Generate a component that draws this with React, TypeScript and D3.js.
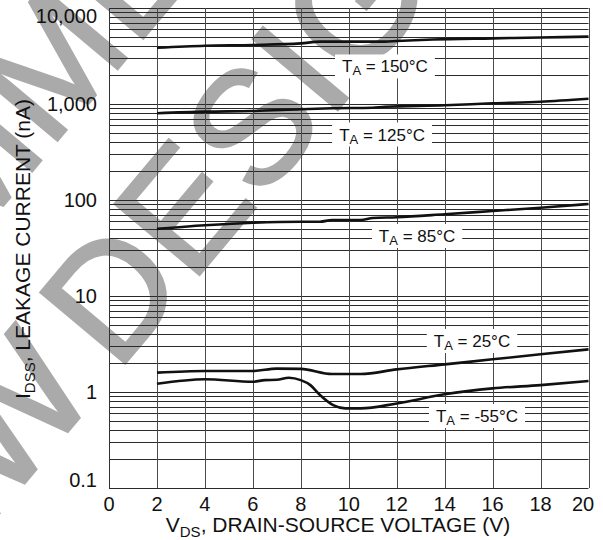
import React from 'react';
import * as d3 from 'd3';

// ---- Data (V_DS in volts, I_DSS in nA) ----
const curve150: [number, number][] = [[2, 3860], [4, 4050], [6, 4120], [8, 4280], [8.8, 4460], [10, 4460], [11.5, 4460], [12, 4530], [13.5, 4700], [16, 4830], [18, 4930], [20, 5030]];
const curve125: [number, number][] = [[2, 800], [4, 832], [6, 845], [8, 881], [9.3, 902], [11, 915], [11.5, 937], [14, 969], [16, 1017], [18, 1057], [20, 1136]];
const curve85: [number, number][] = [[2, 50], [4, 54.5], [6, 58], [8, 59.4], [8.8, 59.4], [9.3, 61.9], [10.5, 61.9], [11, 64.9], [12, 66.1], [14, 71], [16, 76.8], [18, 83.1], [20, 90.9]];
const curve25: [number, number][] = [[2, 1.59], [4, 1.655], [6, 1.655], [7, 1.75], [8, 1.74], [9.3, 1.54], [10.5, 1.54], [12, 1.72], [14, 1.94], [16, 2.19], [18, 2.47], [20, 2.78]];
const curveM55: [number, number][] = [[2, 1.22], [4, 1.36], [6, 1.28], [6.5, 1.33], [7, 1.34], [7.5, 1.41], [8, 1.33], [8.4, 1.18], [8.8, 0.93], [9.35, 0.73], [9.85, 0.676], [10.5, 0.676], [12, 0.76], [14, 0.946], [16, 1.09], [18, 1.18], [20, 1.3]];
const curves = [curve150, curve125, curve85, curve25, curveM55];

const seriesTemps = ['150°C', '125°C', '85°C', '25°C', '-55°C'];
// label anchor in data coords [V, nA]
const labelAnchors: [number, number][] = [[11.51, 2460], [11.39, 481], [12.85, 42.2], [15.14, 3.4], [15.35, 0.562]];

const xTicks = [0, 2, 4, 6, 8, 10, 12, 14, 16, 18, 20];
const yTicks = [0.1, 1, 10, 100, 1000, 10000];
const yTickLabels = ['0.1', '1', '10', '100', '1,000', '10,000'];

const FONT = '"Liberation Sans", Arial, Helvetica, sans-serif';

const charW: Record<string, number> = { ' ': 0.278, '=': 0.584, '°': 0.4, C: 0.722, T: 0.611, '-': 0.333 };
function estWidth(s: string, fs: number) {
  let w = 0;
  for (const c of s) w += (charW[c] ?? 0.556) * fs;
  return w;
}

export default function App() {
  const W = 603, H = 540;
  const x = d3.scaleLinear().domain([0, 20]).range([109, 588.5]);
  const y = d3.scaleLog().domain([0.1, 10000]).range([488, 8]);

  const hLines: number[] = [];
  for (let d = -1; d <= 3; d++) {
    for (let k = 1; k <= 9; k++) hLines.push(k * Math.pow(10, d));
  }
  hLines.push(10000);

  const line = d3.line<[number, number]>().x(d => x(d[0])).y(d => y(d[1])).curve(d3.curveMonotoneX);

  const F = 160;
  const wmFill = '#aaaaaa';

  return (
    <svg width={W} height={H} style={{ position: 'absolute', left: 0, top: 0, background: '#fff' }} fontFamily={FONT}>
      <rect x={0} y={0} width={W} height={H} fill="#fff" />
      {/* watermark */}
      <g fill={wmFill} stroke={wmFill} strokeWidth={3} strokeLinejoin="miter" fontSize={F} fontFamily={FONT}>
        <g transform="translate(110,292) rotate(-50)">
          <text x={139 - 6.528 * F} y={-195 + 0.358 * F}>NOT RECOMMENDED</text>
          <text x={-0.361 * F} y={0.358 * F}>DESIGN</text>
          <text x={-0.361 * F - 0.16 * F} y={0.358 * F} textAnchor="end">NEW</text>
        </g>
      </g>
      {/* horizontal grid */}
      {hLines.map((v, i) => {
        const yy = Math.round(y(v)) + 0.5;
        return <line key={'h' + i} x1={x(0)} x2={x(20)} y1={yy} y2={yy} stroke="#2a2a2a" strokeWidth={1} />;
      })}
      {/* vertical grid */}
      {xTicks.map((v, i) => {
        const xx = Math.round(x(v)) + 0.5;
        return <line key={'v' + i} x1={xx} x2={xx} y1={y(10000)} y2={y(0.1)} stroke={i === 0 ? '#333' : '#4a4a4a'} strokeWidth={1} />;
      })}
      {/* curves */}
      {curves.map((c, i) => (
        <path key={'c' + i} d={line(c) || ''} fill="none" stroke="#111" strokeWidth={2.6} strokeLinejoin="round" />
      ))}
      {/* curve labels */}
      {seriesTemps.map((t, i) => {
        const cx = x(labelAnchors[i][0]);
        const cy = y(labelAnchors[i][1]);
        const fs = 17, sfs = 13;
        const rest = ' = ' + t;
        const tw = estWidth('T', fs) + 0.667 * sfs + estWidth(rest, fs);
        const left = cx - tw / 2;
        return (
          <g key={'l' + i}>
            <rect x={left - 7} y={cy - 12} width={tw + 14} height={24} fill="#fff" />
            <text x={left} y={cy + 6} fontSize={fs} fill="#111">
              T<tspan fontSize={sfs} dy={3}>A</tspan>
              <tspan fontSize={fs} dy={-3}>{rest}</tspan>
            </text>
          </g>
        );
      })}
      {/* y tick labels */}
      {yTicks.map((v, i) => {
        const cy = Math.min(Math.max(y(v), 15.5), 480);
        return (
          <text key={'yt' + i} x={97} y={cy + 7} textAnchor="end" fontSize={20} fill="#111">{yTickLabels[i]}</text>
        );
      })}
      {/* x tick labels */}
      {xTicks.map((v, i) => {
        const cx = Math.min(x(v), 583);
        return (
          <text key={'xt' + i} x={cx} y={511} textAnchor="middle" fontSize={20} fill="#111">{v}</text>
        );
      })}
      {/* x axis title */}
      <text x={338} y={532} textAnchor="middle" fontSize={21} fill="#111">
        V<tspan fontSize={15} dy={5}>DS</tspan><tspan fontSize={21} dy={-5}>, DRAIN-SOURCE VOLTAGE (V)</tspan>
      </text>
      {/* y axis title */}
      <g transform="translate(30,249) rotate(-90)">
        <text x={0} y={0} textAnchor="middle" fontSize={21} fill="#111">
          I<tspan fontSize={15} dy={5}>DSS</tspan><tspan fontSize={21} dy={-5}>, LEAKAGE CURRENT (nA)</tspan>
        </text>
      </g>
    </svg>
  );
}
